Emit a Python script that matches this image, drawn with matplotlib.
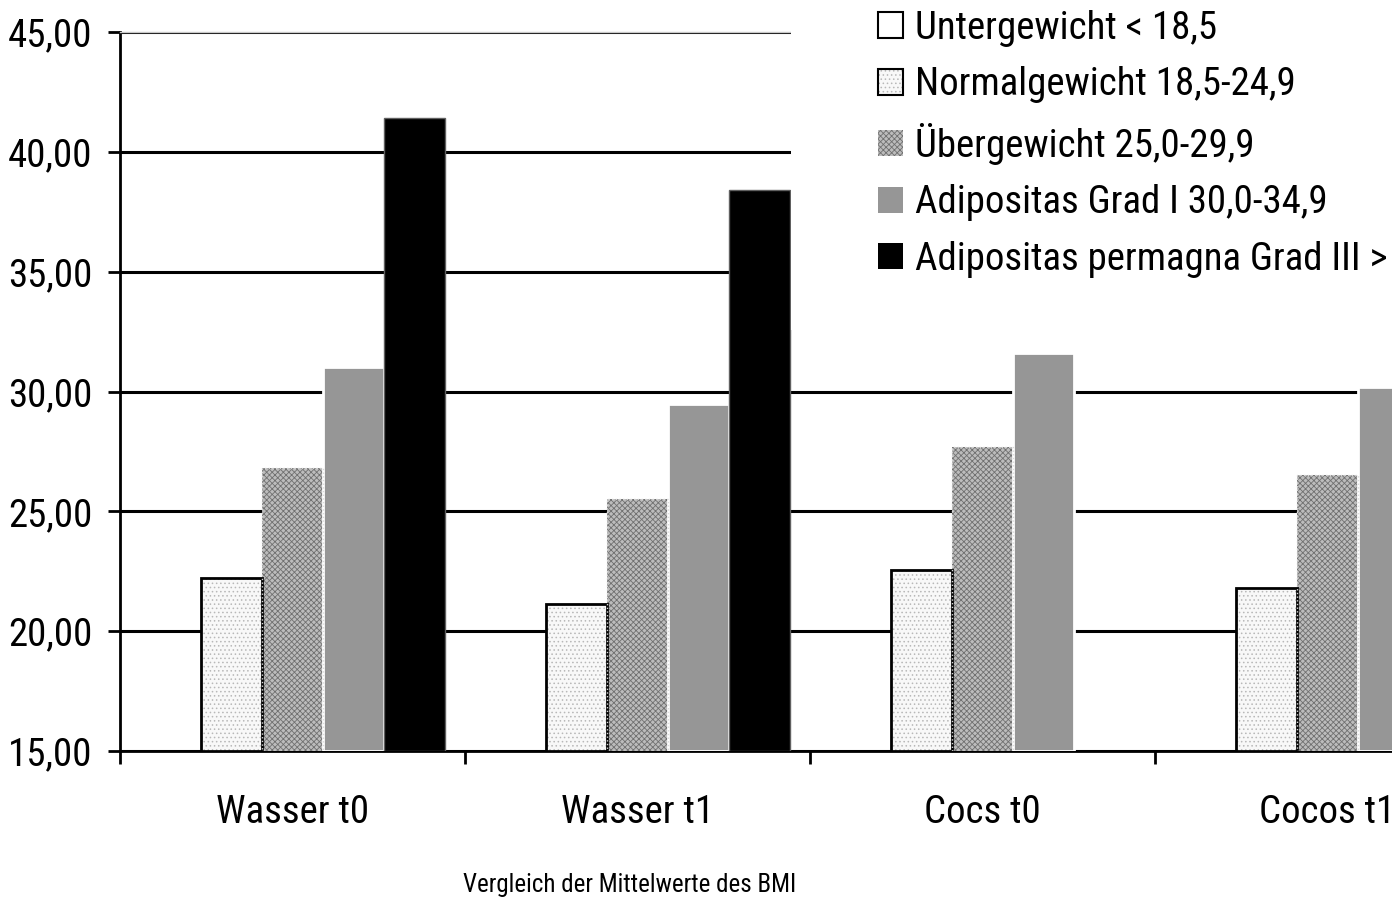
import numpy as np
import matplotlib
matplotlib.use('Agg')
import matplotlib.pyplot as plt
from matplotlib.patches import Patch, Rectangle

plt.rcParams['font.family'] = ['Roboto Condensed', 'DejaVu Sans']
plt.rcParams['hatch.linewidth'] = 0.6

groups = ['Wasser t0', 'Wasser t1', 'Cocs t0', 'Cocos t1']
series = ['Untergewicht < 18,5', 'Normalgewicht 18,5-24,9',
          'Übergewicht 25,0-29,9', 'Adipositas Grad I 30,0-34,9',
          'Adipositas permagna Grad III > 40']
untergewicht = [np.nan, np.nan, np.nan, np.nan]
normalgewicht = [22.22, 21.13, 22.55, 21.80]
uebergewicht = [26.80, 25.50, 27.68, 26.50]
adipositas_1 = [31.02, 29.48, 31.60, 30.17]
adipositas_3 = [41.40, 38.40, np.nan, np.nan]
yticks = [15, 20, 25, 30, 35, 40, 45]
ytick_labels = ['15,00', '20,00', '25,00', '30,00', '35,00', '40,00', '45,00']

# fill (hatch colour comes from edgecolor) and outline drawn separately
fills = [
    dict(facecolor='white', edgecolor='white', linewidth=0),
    dict(facecolor='#f8f8f8', edgecolor='#b8b8b8', linewidth=0, hatch='....'),
    dict(facecolor='#bcbcbc', edgecolor='#707070', linewidth=0, hatch='xxxxxx'),
    dict(facecolor='#969696', edgecolor='white', linewidth=2),
    dict(facecolor='black', edgecolor='#606060', linewidth=1),
]
outlines = [
    dict(fill=False, edgecolor='black', linewidth=2),
    dict(fill=False, edgecolor='black', linewidth=2),
    dict(fill=False, edgecolor='#d8d8d8', linewidth=1, linestyle=':'),
    None,
    None,
]

fig = plt.figure(figsize=(13.92, 8.99), dpi=100)
ax = fig.add_axes([120 / 1392, 1 - 751 / 899, 1380 / 1392, 719 / 899])

x = np.arange(len(groups))
w = 0.177
data = [untergewicht, normalgewicht, uebergewicht, adipositas_1, adipositas_3]
for i, vals in enumerate(data):
    vals = np.array(vals)
    ok = ~np.isnan(vals)
    if not ok.any():
        continue
    ax.bar(x[ok] + (i - 2) * w, vals[ok] - 15, w, bottom=15, zorder=3, **fills[i])
    if outlines[i] is not None:
        ax.bar(x[ok] + (i - 2) * w, vals[ok] - 15, w, bottom=15, zorder=4, **outlines[i])

ax.set_ylim(15, 45)
ax.set_xlim(-0.5, 3.5)
ax.set_yticks(yticks)
ax.set_yticklabels(ytick_labels, fontsize=28)
ax.yaxis.grid(True, color='black', linewidth=2.2, zorder=0)
ax.set_axisbelow(True)

ax.set_xticks(x)
ax.set_xticklabels(groups, fontsize=28)
ax.set_xticks(np.arange(-0.5, 4.0, 1.0), minor=True)
ax.tick_params(axis='x', which='major', length=0, pad=31)
ax.tick_params(axis='x', which='minor', length=9, width=2, direction='out')
ax.tick_params(axis='y', length=9, width=2, direction='out', pad=11)

for s in ['left', 'bottom']:
    ax.spines[s].set_linewidth(2)
ax.spines['top'].set_color('#c8c8c8')
ax.spines['top'].set_linewidth(1)
ax.spines['right'].set_visible(False)

# white area behind the legend
fig.patches.append(Rectangle((791 / 1392, 1 - 330 / 899), 601 / 1392, 330 / 899,
                             transform=fig.transFigure, facecolor='white',
                             edgecolor='none', zorder=1))

handles = []
for f, o in zip(fills, outlines):
    p = Patch(**f)
    p.set_linewidth(0)
    if o is not None and o['edgecolor'] == 'black':
        handles.append((p, Patch(fill=False, edgecolor='black', linewidth=1.5)))
    else:
        handles.append(p)
leg = fig.legend(handles, series, loc='upper left',
                 bbox_to_anchor=(878 / 1392, 1 - 10 / 899),
                 fontsize=28, frameon=False, borderpad=0,
                 handlelength=0.64, handleheight=0.64,
                 handletextpad=0.3, labelspacing=0.5, borderaxespad=0)

fig.text(630 / 1392, 1 - 885 / 899, 'Vergleich der Mittelwerte des BMI',
         ha='center', va='center', fontsize=18)

fig.savefig('out.png', dpi=100)
